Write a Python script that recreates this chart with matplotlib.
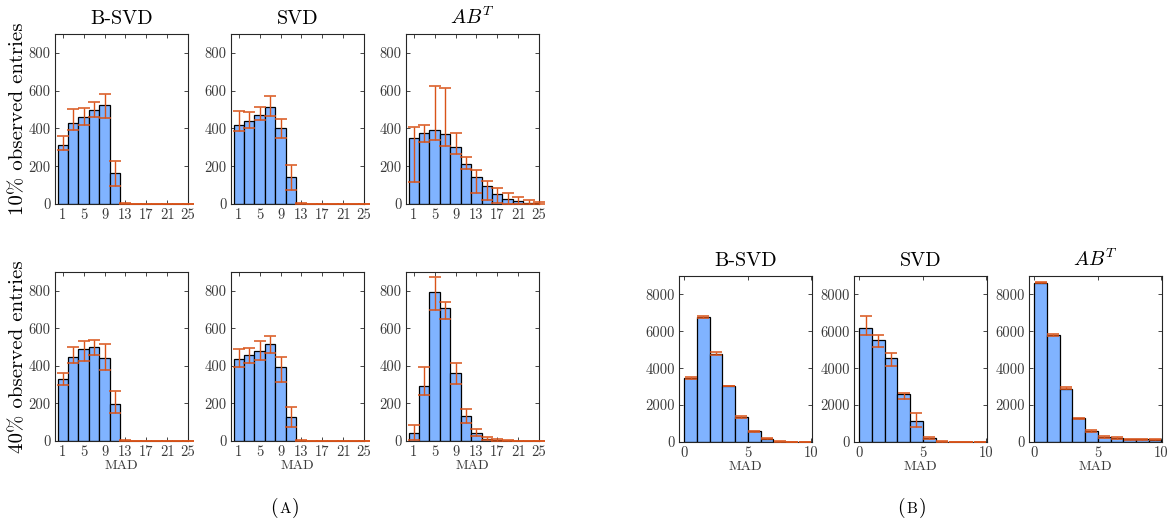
import numpy as np
import matplotlib
matplotlib.use("Agg")
import matplotlib.pyplot as plt

plt.rcParams["font.family"] = ["cmr10", "DejaVu Serif"]
plt.rcParams["mathtext.fontset"] = "cm"
plt.rcParams["axes.formatter.use_mathtext"] = True

# ---------------- data: (A) MAD histograms, bin centres 1,3,...,25 ----------------
mad_centers_a = np.arange(1, 26, 2)

bsvd10_counts = [313, 429, 463, 498, 525, 164, 2, 0, 0, 0, 0, 0, 0]
bsvd10_lo     = [286, 392, 420, 461, 454, 94, 0, 0, 0, 0, 0, 0, 0]
bsvd10_hi     = [359, 505, 507, 539, 583, 230, 5, 0, 0, 0, 0, 0, 0]

svd10_counts = [419, 442, 472, 512, 405, 143, 2, 0, 0, 0, 0, 0, 0]
svd10_lo     = [385, 403, 447, 465, 350, 74, 0, 0, 0, 0, 0, 0, 0]
svd10_hi     = [491, 489, 512, 571, 452, 205, 5, 0, 0, 0, 0, 0, 0]

abt10_counts = [350, 376, 392, 369, 302, 212, 143, 95, 51, 27, 14, 7, 4]
abt10_lo     = [118, 330, 341, 309, 265, 186, 58, 21, 5, 2, 0, 0, 0]
abt10_hi     = [408, 420, 624, 613, 375, 247, 180, 122, 83, 57, 39, 21, 11]

bsvd40_counts = [332, 449, 491, 500, 443, 199, 2, 0, 0, 0, 0, 0, 0]
bsvd40_lo     = [296, 417, 426, 457, 378, 149, 0, 0, 0, 0, 0, 0, 0]
bsvd40_hi     = [362, 498, 532, 537, 516, 268, 5, 0, 0, 0, 0, 0, 0]

svd40_counts = [438, 457, 480, 516, 394, 126, 1, 0, 0, 0, 0, 0, 0]
svd40_lo     = [395, 415, 431, 468, 312, 74, 0, 0, 0, 0, 0, 0, 0]
svd40_hi     = [489, 495, 534, 557, 449, 179, 3, 0, 0, 0, 0, 0, 0]

abt40_counts = [44, 294, 793, 709, 362, 135, 44, 12, 5, 2, 0, 0, 0]
abt40_lo     = [5, 246, 700, 649, 305, 96, 25, 5, 0, 0, 0, 0, 0]
abt40_hi     = [85, 392, 872, 741, 413, 172, 64, 23, 9, 3, 0, 0, 0]

# ---------------- data: (B) MAD histograms, bin centres 0.5,...,9.5 ----------------
mad_centers_b = np.arange(0.5, 10, 1.0)

bsvd_b_counts = [3477, 6793, 4775, 3045, 1369, 577, 162, 18, 10, 10]
bsvd_b_lo     = [3400, 6740, 4720, 3010, 1300, 520, 145, 10, 5, 5]
bsvd_b_hi     = [3530, 6850, 4880, 3060, 1420, 600, 200, 30, 15, 15]

svd_b_counts = [6180, 5532, 4559, 2577, 1153, 198, 18, 5, 5, 5]
svd_b_lo     = [5802, 5171, 4144, 2324, 829, 162, 10, 0, 0, 0]
svd_b_hi     = [6811, 5820, 4847, 2667, 1550, 252, 30, 10, 10, 10]

abt_b_counts = [8631, 5820, 2883, 1279, 595, 270, 198, 144, 144, 126]
abt_b_lo     = [8595, 5766, 2847, 1243, 560, 234, 162, 108, 108, 90]
abt_b_hi     = [8685, 5856, 2955, 1315, 650, 306, 252, 180, 180, 162]

a_xticks = [1, 5, 9, 13, 17, 21, 25]
a_yticks = [0, 200, 400, 600, 800]
b_xticks = [0, 5, 10]
b_yticks = [0, 2000, 4000, 6000, 8000]

method_titles = ["B-SVD", "SVD", r"$AB^T$"]
row_labels = ["10% observed entries", "40% observed entries"]

# ---------------- styling ----------------
W, H = 1174, 523
DPI = 100
BAR_FACE = "#80B3FF"
ERR_COLOR = "#D95319"
AX_COLOR = "#262626"
LABEL_COLOR = "#3a3a3a"

fig = plt.figure(figsize=(W / DPI, H / DPI), dpi=DPI)


def px_axes(x0, x1, y0, y1):
    """Create axes from pixel bounds (origin top-left)."""
    return fig.add_axes([x0 / W, 1 - y1 / H, (x1 - x0) / W, (y1 - y0) / H])


def draw_hist(ax, centers, counts, lo, hi, width, xlim, ylim, xticks, yticks):
    counts = np.asarray(counts, float)
    lo = np.asarray(lo, float)
    hi = np.asarray(hi, float)
    ax.bar(centers, counts, width=width, color=BAR_FACE, edgecolor="black",
           linewidth=0.9, zorder=2)
    ax.errorbar(centers, counts, yerr=[counts - lo, hi - counts], fmt="none",
                ecolor=ERR_COLOR, elinewidth=1.0, capsize=4.0, capthick=1.1,
                zorder=3, clip_on=False)
    ax.set_xlim(*xlim)
    ax.set_ylim(*ylim)
    ax.set_xticks(xticks)
    ax.set_xticklabels([str(t) for t in xticks])
    ax.set_yticks(yticks)
    ax.set_yticklabels([str(t) for t in yticks])
    ax.tick_params(direction="in", length=3, width=0.6, top=True, right=True,
                   labelsize=10.5, color=AX_COLOR, labelcolor=LABEL_COLOR, pad=3)
    for s in ax.spines.values():
        s.set_linewidth(0.8)
        s.set_color(AX_COLOR)


def caption(xc, yc, letter):
    """Sub-figure caption '(X)' with a small-cap letter."""
    fig.text((xc - 7) / W, 1 - yc / H, "(", ha="right", va="baseline", fontsize=14)
    fig.text(xc / W, 1 - yc / H, letter, ha="center", va="baseline", fontsize=11)
    fig.text((xc + 7) / W, 1 - yc / H, ")", ha="left", va="baseline", fontsize=14)


# ---------------- panel (A) ----------------
a_cols = [(55, 188), (231, 364), (406, 539)]
a_rows = [(34, 204), (272, 441)]
a_data = [
    [(bsvd10_counts, bsvd10_lo, bsvd10_hi),
     (svd10_counts, svd10_lo, svd10_hi),
     (abt10_counts, abt10_lo, abt10_hi)],
    [(bsvd40_counts, bsvd40_lo, bsvd40_hi),
     (svd40_counts, svd40_lo, svd40_hi),
     (abt40_counts, abt40_lo, abt40_hi)],
]

for r, (y0, y1) in enumerate(a_rows):
    for c, (x0, x1) in enumerate(a_cols):
        ax = px_axes(x0, x1, y0, y1)
        cnt, lo, hi = a_data[r][c]
        draw_hist(ax, mad_centers_a, cnt, lo, hi, 2.0, (-0.5, 25), (0, 900),
                  a_xticks, a_yticks)
        if r == 0:
            ax.set_title(method_titles[c], fontsize=14.5, pad=7)
        else:
            ax.set_xlabel("MAD", fontsize=10, labelpad=1, color=LABEL_COLOR)
        if c == 0:
            fig.text(18 / W, 1 - (y0 + y1) / 2 / H, row_labels[r], rotation=90,
                     ha="center", va="center", fontsize=15)

# ---------------- panel (B) ----------------
b_cols = [(679, 812), (854, 987), (1029, 1162)]
b_y0, b_y1 = 276, 442
b_data = [
    (bsvd_b_counts, bsvd_b_lo, bsvd_b_hi),
    (svd_b_counts, svd_b_lo, svd_b_hi),
    (abt_b_counts, abt_b_lo, abt_b_hi),
]
for c, (x0, x1) in enumerate(b_cols):
    ax = px_axes(x0, x1, b_y0, b_y1)
    cnt, lo, hi = b_data[c]
    draw_hist(ax, mad_centers_b, cnt, lo, hi, 1.0, (-0.42, 10.05), (0, 9000),
              b_xticks, b_yticks)
    ax.set_title(method_titles[c], fontsize=14.5, pad=7)
    ax.set_xlabel("MAD", fontsize=10, labelpad=1, color=LABEL_COLOR)

# sub-figure captions
caption(285, 513, "A")
caption(912, 513, "B")

fig.savefig("out.png", dpi=DPI)
